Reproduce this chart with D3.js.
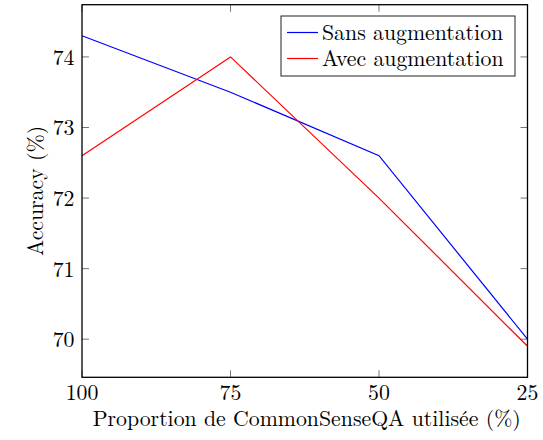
<!DOCTYPE html>
<html>
<head>
<meta charset="utf-8">
<script src="https://cdn.jsdelivr.net/npm/d3@7"></script>
<style>
  body { margin: 0; background: #fff; }
</style>
</head>
<body>
<svg id="chart" width="543" height="440"></svg>
<script>
// data
var proportions = [100, 75, 50, 25];
var sansAug = [74.3, 73.5, 72.6, 70.0];
var avecAug = [72.6, 74.0, 72.0, 69.9];
var yTicks = [70, 71, 72, 73, 74];
var seriesNames = ["Sans augmentation", "Avec augmentation"];
var seriesColors = ["#0000ff", "#ff0000"];

var FONT = "'Latin Modern Roman', 'Liberation Serif', serif";
var FS = "21.8px";

var svg = d3.select("#chart");
var plotL = 82, plotR = 527.5, plotT = 4.7, plotB = 377.3;
var tickLen = 7;

var x = d3.scaleLinear().domain([100, 25]).range([plotL, plotR]);
var y = d3.scaleLinear().domain([69.46, 74.74]).range([plotB, plotT]);

// ticks (inside, mirrored on opposite sides)
var ticks = svg.append("g").attr("stroke", "#777").attr("stroke-width", 1);
proportions.forEach(function (p) {
  ticks.append("line").attr("x1", x(p)).attr("x2", x(p)).attr("y1", plotB).attr("y2", plotB - tickLen);
  ticks.append("line").attr("x1", x(p)).attr("x2", x(p)).attr("y1", plotT).attr("y2", plotT + tickLen);
});
yTicks.forEach(function (t) {
  ticks.append("line").attr("x1", plotL).attr("x2", plotL + tickLen).attr("y1", y(t)).attr("y2", y(t));
  ticks.append("line").attr("x1", plotR).attr("x2", plotR - tickLen).attr("y1", y(t)).attr("y2", y(t));
});

// series
var line = d3.line()
  .x(function (d, i) { return x(proportions[i]); })
  .y(function (d) { return y(d); });

[sansAug, avecAug].forEach(function (vals, k) {
  svg.append("path")
    .attr("d", line(vals))
    .attr("fill", "none")
    .attr("stroke", seriesColors[k])
    .attr("stroke-width", 1.2);
});

// frame
svg.append("rect")
  .attr("x", plotL).attr("y", plotT)
  .attr("width", plotR - plotL).attr("height", plotB - plotT)
  .attr("fill", "none").attr("stroke", "#000").attr("stroke-width", 1.3);

function label(sel) {
  return sel.attr("font-family", FONT).style("font-family", FONT)
    .style("font-size", FS).attr("fill", "#000");
}

// tick labels
label(svg.selectAll(".xlab").data(proportions).enter().append("text"))
  .attr("class", "xlab")
  .attr("x", function (d) { return x(d); })
  .attr("y", 400)
  .attr("text-anchor", "middle")
  .text(function (d) { return d; });

label(svg.selectAll(".ylab").data(yTicks).enter().append("text"))
  .attr("class", "ylab")
  .attr("x", 74.5)
  .attr("y", function (d) { return y(d) + 8; })
  .attr("text-anchor", "end")
  .text(function (d) { return d; });

// axis titles
label(svg.append("text"))
  .attr("x", (plotL + plotR) / 2 + 2)
  .attr("y", 426)
  .attr("text-anchor", "middle")
  .text("Proportion de CommonSenseQA utilisée (%)");

label(svg.append("text"))
  .attr("transform", "translate(43," + ((plotT + plotB) / 2) + ") rotate(-90)")
  .attr("text-anchor", "middle")
  .text("Accuracy (%)");

// legend
var lg = svg.append("g");
lg.append("rect")
  .attr("x", 281).attr("y", 16).attr("width", 234).attr("height", 60)
  .attr("fill", "#fff").attr("stroke", "#222").attr("stroke-width", 1);
seriesNames.forEach(function (name, i) {
  var yy = 32.5 + i * 26;
  lg.append("line")
    .attr("x1", 287).attr("x2", 318).attr("y1", yy).attr("y2", yy)
    .attr("stroke", seriesColors[i]).attr("stroke-width", 1.2);
  label(lg.append("text"))
    .attr("x", 322).attr("y", yy + 7)
    .text(name);
});
</script>
</body>
</html>
